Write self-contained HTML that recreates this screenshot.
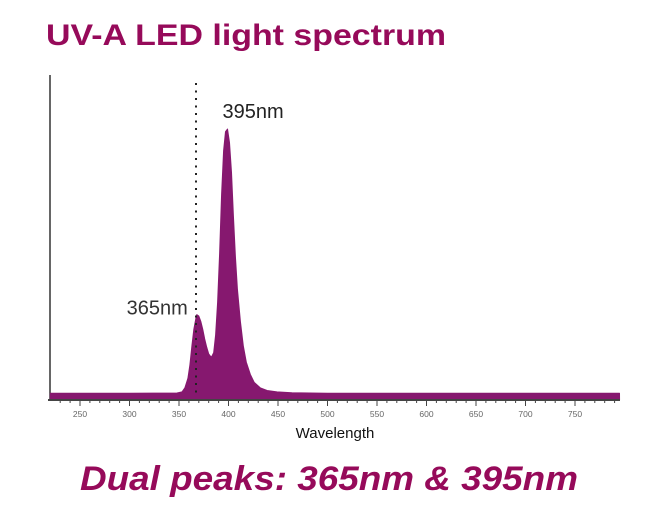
<!DOCTYPE html>
<html><head><meta charset="utf-8"><style>
html,body{margin:0;padding:0;background:#fff;}
svg{display:block;font-family:"Liberation Sans",sans-serif;}
</style></head><body>
<svg width="668" height="515" viewBox="0 0 668 515">
<text x="46" y="45" font-size="30" font-weight="bold" fill="#960a5a" textLength="400" lengthAdjust="spacingAndGlyphs">UV-A LED light spectrum</text>
<g id="plot"></g>
<text x="335" y="438" font-size="15" fill="#111" text-anchor="middle">Wavelength</text>
<text x="80" y="490" font-size="34" font-weight="bold" font-style="italic" fill="#960a5a" textLength="498" lengthAdjust="spacingAndGlyphs">Dual peaks: 365nm &amp; 395nm</text>
</svg>
<script>
const wavelengths = [220,300,348,353,356,359,361,363,365,367,368,370,372,374,376,378,380,382,383,385,387,389,391,393,395,397,399,401,403,405,407,409,412,415,418,422,426,432,439,449,464,500,600,700,795];
const intensity   = [2.5,2.5,2.6,3,4.5,8,13,20,26,30,31.5,31,29,26,22.5,19.5,17,16,16,17.5,24,36,54,76,92,99,100,95,84,68,53,41,29,20,14,9.5,6.5,4.5,3.5,3,2.7,2.5,2.5,2.5,2.5];
const tickLabels = [250,300,350,400,450,500,550,600,650,700,750];
const peakLabels = ["365nm","395nm"];
const peakNm = [368,399];
const peakVal = [31.5,100];

const NS="http://www.w3.org/2000/svg";
const g=document.getElementById('plot');
const xS=nm=>80+(nm-250)*0.99;
const yS=v=>400-v*2.71;
function mk(tag,attrs){const e=document.createElementNS(NS,tag);for(const k in attrs)e.setAttribute(k,attrs[k]);g.appendChild(e);return e;}

const ya=mk('line',{x1:50,y1:75,x2:50,y2:401,stroke:'#333','stroke-width':1.5});



let d='M'+xS(wavelengths[0])+','+yS(0);
wavelengths.forEach((w,i)=>{d+=' L'+xS(w).toFixed(1)+','+yS(intensity[i]).toFixed(1);});
d+=' L'+xS(wavelengths[wavelengths.length-1])+','+yS(0)+' Z';
const area=mk('path',{d:d,fill:'#86186f',stroke:'#86186f','stroke-width':1,'stroke-linejoin':'round'});



const xa=mk('line',{x1:48,y1:400,x2:620,y2:400,stroke:'#444','stroke-width':2});


for(let nm=230;nm<=790;nm+=10){
  const major=nm%50===0;
  const t=mk('line',{x1:xS(nm),y1:400,x2:xS(nm),y2:major?406:403,stroke:'#444','stroke-width':1});
  
  
}
tickLabels.forEach(v=>{
  const t=mk('text',{x:xS(v),y:417,'font-size':8.5,fill:'#666','text-anchor':'middle'});
  t.textContent=v;
  
  
});

const dl=mk('line',{x1:196,y1:83,x2:196,y2:395,stroke:'#222','stroke-width':2,'stroke-dasharray':'2 5.5'});



const l1=mk('text',{x:xS(peakNm[0])-9,y:yS(peakVal[0])-0,'font-size':20,fill:'#333','text-anchor':'end'});
l1.textContent=peakLabels[0];


const l2=mk('text',{x:xS(peakNm[1])-5,y:yS(peakVal[1])-11,'font-size':20,fill:'#222','text-anchor':'start'});
l2.textContent=peakLabels[1];


</script>
</body></html>
